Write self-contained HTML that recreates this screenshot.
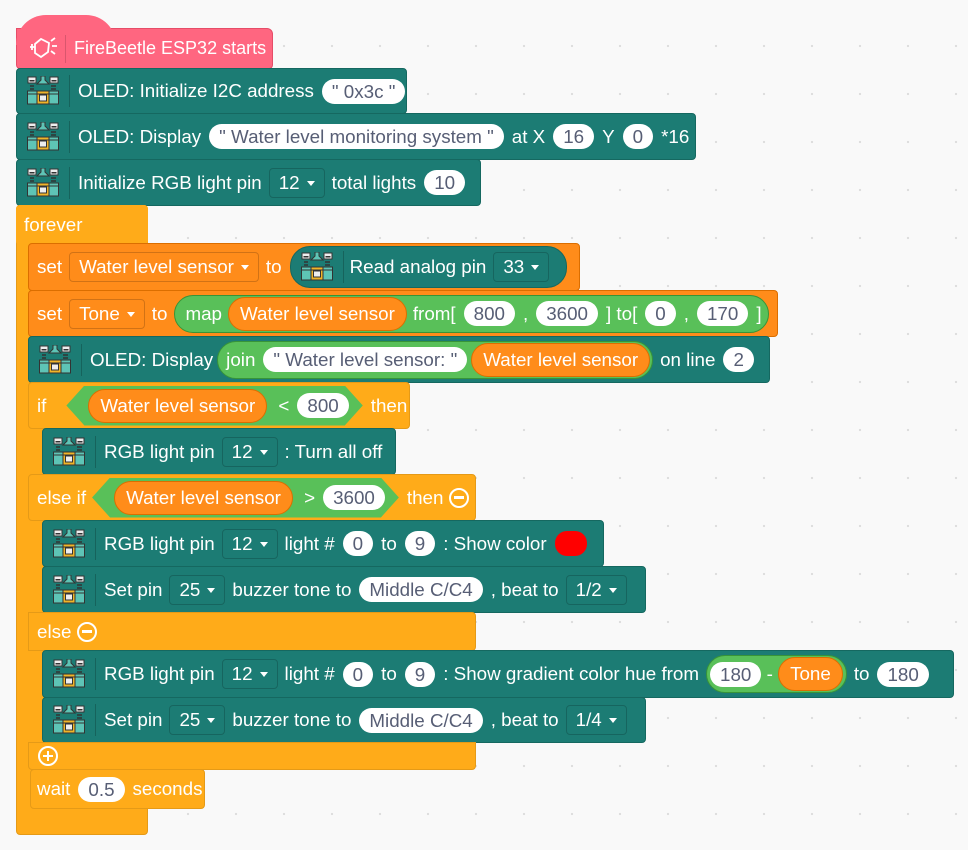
<!DOCTYPE html>
<html><head><meta charset="utf-8"><style>
body{margin:0;width:968px;height:850px;background:#f9f9f9;background-image:radial-gradient(circle,#dcdcdc 1px,transparent 1.3px);background-size:48px 48px;background-position:20px 22px;position:relative;overflow:hidden;font-family:"Liberation Sans",sans-serif}
.b{position:absolute;display:flex;align-items:center;white-space:nowrap;color:#fff;font-size:18.8px;border-radius:4px;box-sizing:border-box}
.t{background:#1c7c74;border:1px solid #156860}
.o{background:#ffab19;border:1px solid #e59a17}
.s{background:#ff8c1a;border:1px solid #db6e00}
.ic{display:flex;align-items:center;margin-left:10px;padding-right:10px;border-right:1px solid rgba(0,0,0,.2);height:32px;margin-right:8px}
.n{background:#fff;color:#575e75;height:25px;line-height:25px;border-radius:13px;padding:0 10px;margin:0 8px}
.d{border:1px solid rgba(0,0,0,.18);border-radius:4px;height:28px;line-height:28px;padding:0 9px;margin:0 7px}
.d:after{content:"";display:inline-block;border:4px solid transparent;border-top:5px solid #fff;margin-left:7px;vertical-align:-1px}
.v{background:#ff8c1a;border:1px solid #db6e00;height:34px;line-height:32px;border-radius:17px;padding:0 11px;margin:0 6px;box-sizing:border-box}
.g{background:#59c059;border:1px solid #389438;height:38px;border-radius:19px;padding:0 6px 0 10px;display:flex;align-items:center;margin:0 7px;box-sizing:border-box}
.hex{background:#59c059;height:40px;display:flex;align-items:center;padding:0 14px 0 16px;clip-path:polygon(0 50%,18px 0,calc(100% - 18px) 0,100% 50%,calc(100% - 18px) 100%,18px 100%);margin:0 8px}
.hex .n{margin-right:0}
.circ{display:inline-block;width:20px;height:20px;border:2.5px solid #fff;border-radius:50%;position:relative;box-sizing:border-box;margin-left:6px}
.circ:before{content:"";position:absolute;left:3px;right:3px;top:6.5px;height:2.5px;background:#fff}
.plus:after{content:"";position:absolute;top:3px;bottom:3px;left:6.5px;width:2.5px;background:#fff}
</style></head><body>
<svg width="0" height="0" style="position:absolute"><defs><g id="ico">
<rect x="1" y="1" width="8" height="6" fill="#eee" stroke="#333" stroke-width="1"/><rect x="2.5" y="4" width="5" height="1.5" fill="#333"/>
<rect x="23" y="1" width="8" height="6" fill="#eee" stroke="#333" stroke-width="1"/><rect x="24.5" y="4" width="5" height="1.5" fill="#333"/>
<path d="M14 0h4v4l4 4h-12l4-4z" fill="#5ec4b6" stroke="#333" stroke-width="1"/>
<path d="M3 10h4M3 13h4M24 10h5M24 13h5" stroke="#333" stroke-width="1.5"/>
<rect x="0.5" y="15" width="31" height="13" fill="#5ec4b6" stroke="#333" stroke-width="1"/>
<rect x="10" y="15" width="12" height="13" fill="#f0b429" stroke="#333" stroke-width="1"/><rect x="12.5" y="19" width="7" height="6" fill="#eee" stroke="#333" stroke-width="1"/>
<path d="M0.5 18h31" stroke="#333" stroke-width="1"/>
</g></defs></svg>

<div class="b" style="left:16px;top:28px;width:257px;height:41px;background:#ff6680;border:1px solid #e64d68;border-radius:0 6px 4px 4px;font-size:18px">
<div style="position:absolute;left:-1px;top:-14px;width:100px;height:30px;background:#ff6680;border-radius:50px 50px 0 0"></div>
<div style="position:relative;margin-left:10px;padding-right:8px;border-right:1px solid rgba(0,0,0,.15);height:28px;display:flex;align-items:center;margin-right:8px"><svg width="30" height="26" viewBox="0 0 30 26" fill="none" stroke="#fff" stroke-width="1.8"><path d="M8 8l6-5 8 4-1 9-7 5-6-4z"/><path d="M3 11h5M5 8v6M24 5l4-3M25 10h5M24 15l4 3"/></svg></div>
<span style="position:relative">FireBeetle ESP32 starts</span></div>

<div class="b t" style="left:16px;top:68px;width:391px;height:46px"><div class="ic"><svg width="32" height="30"><use href="#ico"/></svg></div>OLED: Initialize I2C address<span class="n">" 0x3c "</span></div>
<div class="b t" style="left:16px;top:113px;width:680px;height:47px"><div class="ic"><svg width="32" height="30"><use href="#ico"/></svg></div>OLED: Display<span class="n">" Water level monitoring system "</span>at X<span class="n">16</span>Y<span class="n">0</span>*16</div>
<div class="b t" style="left:16px;top:159px;width:465px;height:47px"><div class="ic"><svg width="32" height="30"><use href="#ico"/></svg></div>Initialize RGB light pin<span class="d">12</span>total lights<span class="n">10</span></div>

<div class="b o" style="left:16px;top:205px;width:132px;height:630px;display:block"></div>
<div class="b o" style="left:16px;top:205px;width:132px;height:40px;border:none;padding-left:8px">forever</div>

<div class="b s" style="left:28px;top:243px;width:552px;height:48px;padding-left:8px">set<span class="d">Water level sensor</span>to
<div style="display:flex;align-items:center;background:#1c7c74;border:1px solid #156860;height:40px;border-radius:20px;margin-left:8px;padding-right:10px"><div class="ic" style="margin-right:6px"><svg width="32" height="30"><use href="#ico"/></svg></div>Read analog pin<span class="d">33</span></div></div>

<div class="b s" style="left:28px;top:290px;width:750px;height:47px;padding-left:8px">set<span class="d">Tone</span>to
<div class="g" style="padding-right:6px">map<span class="v">Water level sensor</span>from[<span class="n">800</span>,<span class="n">3600</span>] to[<span class="n">0</span>,<span class="n">170</span>]</div></div>

<div class="b t" style="left:28px;top:336px;width:742px;height:47px"><div class="ic"><svg width="32" height="30"><use href="#ico"/></svg></div>OLED: Display<div class="g" style="padding:0 2px 0 8px;margin-left:4px">join<span class="n" style="margin-right:4px">" Water level sensor: "</span><span class="v" style="margin:0">Water level sensor</span></div>on line<span class="n">2</span></div>

<div class="b o" style="left:28px;top:382px;width:14px;height:388px;border-radius:4px 0 0 4px;border:none"></div>
<div class="b o" style="left:28px;top:382px;width:382px;height:47px;padding-left:8px">if<div class="hex" style="margin-left:20px"><span class="v">Water level sensor</span>&nbsp;&lt;<span class="n">800</span></div>then</div>
<div class="b t" style="left:42px;top:428px;width:354px;height:47px"><div class="ic"><svg width="32" height="30"><use href="#ico"/></svg></div>RGB light pin<span class="d">12</span>: Turn all off</div>
<div class="b o" style="left:28px;top:474px;width:448px;height:47px;padding-left:8px">else if<div class="hex" style="margin-left:6px"><span class="v">Water level sensor</span>&nbsp;&gt;<span class="n">3600</span></div>then<span class="circ"></span></div>
<div class="b t" style="left:42px;top:520px;width:562px;height:47px"><div class="ic"><svg width="32" height="30"><use href="#ico"/></svg></div>RGB light pin<span class="d">12</span>light #<span class="n">0</span>to<span class="n">9</span>: Show color<span style="display:inline-block;width:32px;height:25px;border-radius:12px;background:#f00;margin-left:8px"></span></div>
<div class="b t" style="left:42px;top:566px;width:604px;height:47px"><div class="ic"><svg width="32" height="30"><use href="#ico"/></svg></div>Set pin<span class="d">25</span>buzzer tone to<span class="n">Middle C/C4</span>, beat to<span class="d">1/2</span></div>
<div class="b o" style="left:28px;top:612px;width:448px;height:39px;padding-left:8px;border-radius:0 4px 4px 0">else<span class="circ"></span></div>
<div class="b t" style="left:42px;top:650px;width:912px;height:48px"><div class="ic"><svg width="32" height="30"><use href="#ico"/></svg></div>RGB light pin<span class="d">12</span>light #<span class="n">0</span>to<span class="n">9</span>: Show gradient color hue from<div class="g" style="padding:0 3px"><span class="n" style="margin:0">180</span>&nbsp;-&nbsp;<span class="v" style="margin:0">Tone</span></div>to<span class="n">180</span></div>
<div class="b t" style="left:42px;top:697px;width:604px;height:46px"><div class="ic"><svg width="32" height="30"><use href="#ico"/></svg></div>Set pin<span class="d">25</span>buzzer tone to<span class="n">Middle C/C4</span>, beat to<span class="d">1/4</span></div>
<div class="b o" style="left:28px;top:742px;width:448px;height:28px;border-radius:0 0 4px 4px;padding-left:3px"><span class="circ plus"></span></div>

<div class="b o" style="left:30px;top:769px;width:175px;height:40px;padding-left:6px">wait<span class="n">0.5</span>seconds</div>
</body></html>
